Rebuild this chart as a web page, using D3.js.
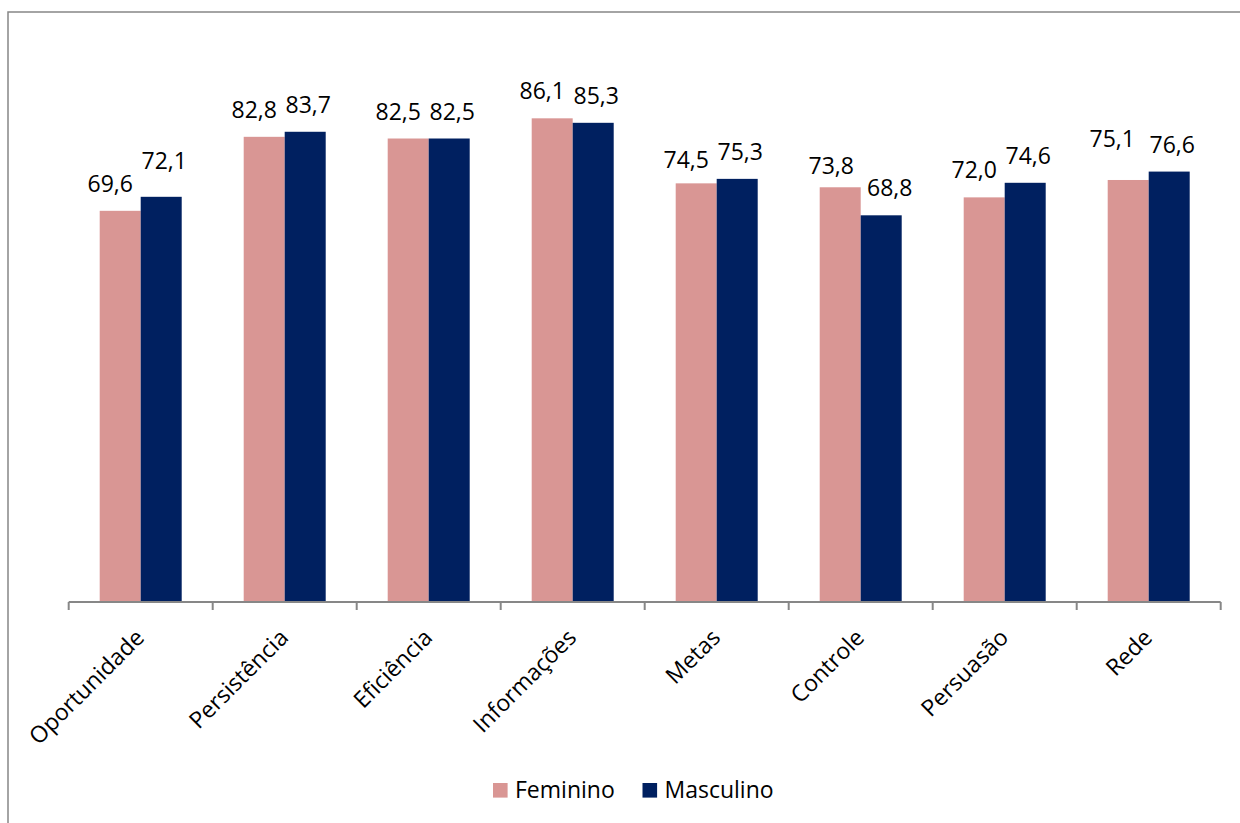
<!DOCTYPE html>
<html>
<head>
<meta charset="utf-8">
<script src="https://cdn.jsdelivr.net/npm/d3@7/dist/d3.min.js"></script>
<style>
  html, body { margin: 0; padding: 0; background: #fff; }
  svg { display: block; }
  text { font-family: "Open Sans", "Noto Sans", sans-serif; fill: #000; }
</style>
</head>
<body>
<svg id="chart" width="1240" height="823"></svg>
<script>
// Categories and series values
const categories = ["Oportunidade", "Persistência", "Eficiência", "Informações", "Metas", "Controle", "Persuasão", "Rede"];
const seriesNames = ["Feminino", "Masculino"];
const feminino = [69.6, 82.8, 82.5, 86.1, 74.5, 73.8, 72.0, 75.1];
const masculino = [72.1, 83.7, 82.5, 85.3, 75.3, 68.8, 74.6, 76.6];
const seriesColors = ["#D99694", "#002060"];

// Hand-placed data labels that sit apart from the default spot (dx, dy in px)
const labelNudges = {
  "Masculino|Oportunidade": [0, -9],
  "Feminino|Metas": [0, 4],
  "Feminino|Controle": [1, 6],
  "Masculino|Controle": [5.5, 0],
  "Feminino|Rede": [-6, -14]
};

const fmt = v => d3.format(".1f")(v).replace(".", ",");

const svg = d3.select("#chart");
const W = 1240, H = 823;
const FONT = 23;

// Outer chart frame (only the top and left edges fall inside the page)
svg.append("rect")
  .attr("x", 8).attr("y", 12)
  .attr("width", W + 10).attr("height", H + 10)
  .attr("fill", "none")
  .attr("stroke", "#878787")
  .attr("stroke-width", 1.5);

const plot = { left: 68.7, right: 1220.7, top: 40.4, bottom: 601 };

const x0 = d3.scaleBand()
  .domain(categories)
  .range([plot.left, plot.right])
  .paddingInner(0).paddingOuter(0);

const x1 = d3.scaleBand()
  .domain(seriesNames)
  .range([0, x0.bandwidth()])
  .paddingInner(0).paddingOuter(0.756);

const y = d3.scaleLinear().domain([0, 100]).range([plot.bottom, plot.top]);

const rows = categories.map((c, i) => ({
  category: c,
  values: [
    { series: "Feminino", value: feminino[i] },
    { series: "Masculino", value: masculino[i] }
  ]
}));

const groups = svg.append("g").selectAll("g")
  .data(rows).join("g")
  .attr("transform", d => `translate(${x0(d.category)},0)`);

groups.selectAll("rect")
  .data(d => d.values).join("rect")
  .attr("x", d => x1(d.series))
  .attr("y", d => y(d.value))
  .attr("width", x1.bandwidth())
  .attr("height", d => y(0) - y(d.value))
  .attr("fill", (d, i) => seriesColors[i]);

// Value labels above each bar
const seriesLabelShift = { "Feminino": -10, "Masculino": 3 };
groups.each(function(row) {
  d3.select(this).selectAll("text.val")
    .data(row.values).join("text")
    .attr("class", "val")
    .attr("text-anchor", "middle")
    .attr("font-size", FONT)
    .attr("x", d => {
      const n = labelNudges[d.series + "|" + row.category] || [0, 0];
      return x1(d.series) + x1.bandwidth() / 2 + seriesLabelShift[d.series] + n[0];
    })
    .attr("y", d => {
      const n = labelNudges[d.series + "|" + row.category] || [0, 0];
      return y(d.value) - 19 + n[1];
    })
    .text(d => fmt(d.value));
});

// Category axis
const axis = svg.append("g")
  .attr("transform", `translate(0,${plot.bottom + 1})`);

axis.append("line")
  .attr("x1", plot.left).attr("x2", plot.right)
  .attr("y1", 0).attr("y2", 0)
  .attr("stroke", "#878787").attr("stroke-width", 2);

const tickPos = categories.map(c => x0(c)).concat([plot.right]);
axis.selectAll("line.tick")
  .data(tickPos).join("line")
  .attr("class", "tick")
  .attr("x1", d => d).attr("x2", d => d)
  .attr("y1", 0).attr("y2", 8)
  .attr("stroke", "#878787").attr("stroke-width", 2);

axis.selectAll("text.cat")
  .data(categories).join("text")
  .attr("class", "cat")
  .attr("text-anchor", "end")
  .attr("font-size", FONT)
  .attr("transform", d => `translate(${x0(d) + x0.bandwidth() / 2 + 5},${37}) rotate(-45)`)
  .text(d => d);

// Legend
const legend = svg.append("g").attr("transform", "translate(493,783)");
const legendItems = [
  { name: seriesNames[0], color: seriesColors[0], x: 0 },
  { name: seriesNames[1], color: seriesColors[1], x: 149.5 }
];
const li = legend.selectAll("g").data(legendItems).join("g")
  .attr("transform", d => `translate(${d.x},0)`);
li.append("rect")
  .attr("width", 14.6).attr("height", 14.6)
  .attr("fill", d => d.color);
li.append("text")
  .attr("x", 22).attr("y", 14.5)
  .attr("font-size", FONT)
  .text(d => d.name);
</script>
</body>
</html>
